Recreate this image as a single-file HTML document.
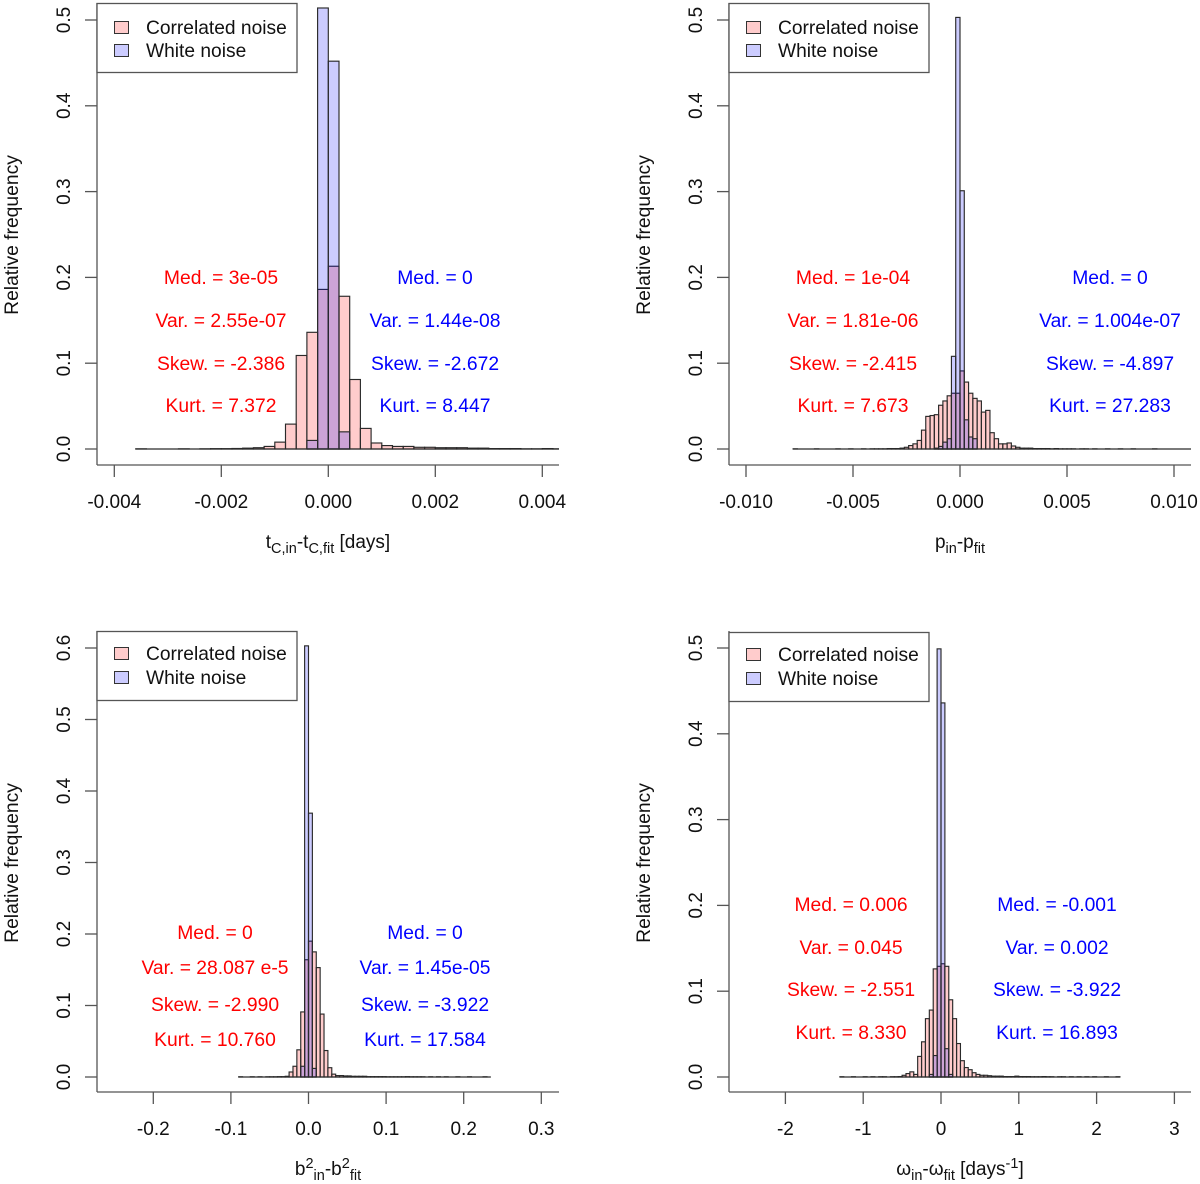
<!DOCTYPE html>
<html lang="en">
<head>
<meta charset="utf-8">
<title>Noise histograms</title>
<style>
html,body{margin:0;padding:0;background:#fff;}
svg{display:block;font-family:"Liberation Sans",Arial,sans-serif;font-size:19px;}
.red{fill:#ff0000;text-anchor:middle;font-size:19.3px;}
.blue{fill:#0000ff;text-anchor:middle;font-size:19.3px;}
.leg{fill:#111;font-size:19.2px;}
.title{fill:#111;text-anchor:middle;}
.sub{font-size:14.5px;}
.lbox{fill:#fff;stroke:#555;stroke-width:1.3;}
.sw1{fill:#ffcccc;stroke:#333;stroke-width:1;}
.sw2{fill:#ccccff;stroke:#333;stroke-width:1;}
</style>
</head>
<body>
<svg id="chart" xmlns="http://www.w3.org/2000/svg" width="1200" height="1184" viewBox="0 0 1200 1184">
  <rect width="1200" height="1184" fill="#fff"/>
  <g id="marks"></g>

  <!-- Panel 1 -->
  <g>
    <rect class="lbox" x="97" y="3.5" width="200" height="69"/>
    <rect class="sw1" x="114.5" y="21.5" width="14" height="12"/>
    <rect class="sw2" x="114.5" y="44.5" width="14" height="12"/>
    <text class="leg" x="146" y="34">Correlated noise</text>
    <text class="leg" x="146" y="57">White noise</text>
  </g>
  <g transform="translate(0,-1)">
    <text class="red" x="221" y="285">Med. = 3e-05</text>
    <text class="red" x="221" y="328">Var. = 2.55e-07</text>
    <text class="red" x="221" y="371">Skew. = -2.386</text>
    <text class="red" x="221" y="413">Kurt. = 7.372</text>
  </g>
  <g transform="translate(0,-1)">
    <text class="blue" x="435" y="285">Med. = 0</text>
    <text class="blue" x="435" y="328">Var. = 1.44e-08</text>
    <text class="blue" x="435" y="371">Skew. = -2.672</text>
    <text class="blue" x="435" y="413">Kurt. = 8.447</text>
  </g>
  <text class="title" x="328" y="548">t<tspan class="sub" dy="5">C,in</tspan><tspan dy="-5">-t</tspan><tspan class="sub" dy="5">C,fit</tspan><tspan dy="-5"> [days]</tspan></text>

  <!-- Panel 2 -->
  <g>
    <rect class="lbox" x="729" y="3.5" width="200" height="69"/>
    <rect class="sw1" x="746.5" y="21.5" width="14" height="12"/>
    <rect class="sw2" x="746.5" y="44.5" width="14" height="12"/>
    <text class="leg" x="778" y="34">Correlated noise</text>
    <text class="leg" x="778" y="57">White noise</text>
  </g>
  <g transform="translate(0,-1)">
    <text class="red" x="853" y="285">Med. = 1e-04</text>
    <text class="red" x="853" y="328">Var. = 1.81e-06</text>
    <text class="red" x="853" y="371">Skew. = -2.415</text>
    <text class="red" x="853" y="413">Kurt. = 7.673</text>
  </g>
  <g transform="translate(0,-1)">
    <text class="blue" x="1110" y="285">Med. = 0</text>
    <text class="blue" x="1110" y="328">Var. = 1.004e-07</text>
    <text class="blue" x="1110" y="371">Skew. = -4.897</text>
    <text class="blue" x="1110" y="413">Kurt. = 27.283</text>
  </g>
  <text class="title" x="960" y="548">p<tspan class="sub" dy="5">in</tspan><tspan dy="-5">-p</tspan><tspan class="sub" dy="5">fit</tspan></text>

  <!-- Panel 3 -->
  <g>
    <rect class="lbox" x="97" y="631.5" width="200" height="69"/>
    <rect class="sw1" x="114.5" y="647.5" width="14" height="12"/>
    <rect class="sw2" x="114.5" y="671.5" width="14" height="12"/>
    <text class="leg" x="146" y="660">Correlated noise</text>
    <text class="leg" x="146" y="684">White noise</text>
  </g>
  <g transform="translate(0,-1)">
    <text class="red" x="215" y="940">Med. = 0</text>
    <text class="red" x="215" y="975">Var. = 28.087 e-5</text>
    <text class="red" x="215" y="1012">Skew. = -2.990</text>
    <text class="red" x="215" y="1047">Kurt. = 10.760</text>
  </g>
  <g transform="translate(0,-1)">
    <text class="blue" x="425" y="940">Med. = 0</text>
    <text class="blue" x="425" y="975">Var. = 1.45e-05</text>
    <text class="blue" x="425" y="1012">Skew. = -3.922</text>
    <text class="blue" x="425" y="1047">Kurt. = 17.584</text>
  </g>
  <text class="title" x="328" y="1175">b<tspan class="sub" dy="-7">2</tspan><tspan class="sub" dy="12">in</tspan><tspan dy="-5">-b</tspan><tspan class="sub" dy="-7">2</tspan><tspan class="sub" dy="12">fit</tspan></text>

  <!-- Panel 4 -->
  <g>
    <rect class="lbox" x="729" y="632.5" width="200" height="69"/>
    <rect class="sw1" x="746.5" y="648.5" width="14" height="12"/>
    <rect class="sw2" x="746.5" y="672.5" width="14" height="12"/>
    <text class="leg" x="778" y="661">Correlated noise</text>
    <text class="leg" x="778" y="685">White noise</text>
  </g>
  <g transform="translate(0,-1)">
    <text class="red" x="851" y="912">Med. = 0.006</text>
    <text class="red" x="851" y="955">Var. = 0.045</text>
    <text class="red" x="851" y="997">Skew. = -2.551</text>
    <text class="red" x="851" y="1040">Kurt. = 8.330</text>
  </g>
  <g transform="translate(0,-1)">
    <text class="blue" x="1057" y="912">Med. = -0.001</text>
    <text class="blue" x="1057" y="955">Var. = 0.002</text>
    <text class="blue" x="1057" y="997">Skew. = -3.922</text>
    <text class="blue" x="1057" y="1040">Kurt. = 16.893</text>
  </g>
  <text class="title" x="960" y="1175">ω<tspan class="sub" dy="5">in</tspan><tspan dy="-5">-ω</tspan><tspan class="sub" dy="5">fit</tspan><tspan dy="-5"> [days</tspan><tspan class="sub" dy="-7">-1</tspan><tspan dy="7">]</tspan></text>
</svg>

<script>
// ---- tc panel data ----
var tcBinWidth = 0.0002;
var tcCorrelatedStart = -0.0036;
var tcCorrelated = [0.0002,0,0,0,0.0002,0,0.0002,0.0004,0.0004,0.0006,0.001,0.0015,0.003,0.008,0.029,0.109,0.136,0.186,0.213,0.178,0.081,0.024,0.007,0.004,0.003,0.003,0.002,0.002,0.0015,0.0015,0.0015,0.001,0.001,0.0005,0.0005,0.0005,0.0002,0.0002,0.0005,0.0002,0.0002];
var tcWhiteStart = -0.0004;
var tcWhite = [0.010,0.514,0.452,0.020];
var tcXTicks = [-0.004,-0.002,0,0.002,0.004];
var tcXLabels = ["-0.004","-0.002","0.000","0.002","0.004"];
var tcYTicks = [0,0.1,0.2,0.3,0.4,0.5];
var tcYLabels = ["0.0","0.1","0.2","0.3","0.4","0.5"];

// ---- p panel data ----
var pBinWidth = 0.0002;
var pCorrelatedStart = -0.0078;
var pCorrelated = [0.0002,0,0,0,0,0.0002,0,0,0,0,0.0002,0,0,0.0002,0,0,0.0002,0,0.0002,0.0002,0.0002,0.0002,0.0005,0.0005,0.0005,0.001,0.002,0.004,0.006,0.010,0.022,0.038,0.039,0.040,0.051,0.056,0.062,0.065,0.065,0.091,0.078,0.065,0.059,0.056,0.043,0.045,0.019,0.012,0.006,0.006,0.007,0.0035,0.002,0.001,0.001,0.001,0.0005,0.0005,0.0005,0.0005,0.0002,0.0005,0.0002,0.0002,0.0002,0.0002,0,0.0002,0.0002,0,0.0002,0,0,0.0002,0,0,0.0002,0,0,0.0002,0,0,0,0,0.0002,0,0,0,0,0,0,0,0];
var pWhiteStart = -0.0012;
var pWhite = [0.001,0.003,0.008,0.012,0.108,0.503,0.301,0.034,0.014,0.012];
var pXTicks = [-0.01,-0.005,0,0.005,0.01];
var pXLabels = ["-0.010","-0.005","0.000","0.005","0.010"];
var pYTicks = [0,0.1,0.2,0.3,0.4,0.5];
var pYLabels = ["0.0","0.1","0.2","0.3","0.4","0.5"];

// ---- b2 panel data ----
var bBinWidth = 0.005;
var bCorrelatedStart = -0.09;
var bCorrelated = [0.0003,0,0,0.0003,0,0.0003,0,0.0003,0.0003,0.0003,0.0005,0.0005,0.001,0.007,0.015,0.038,0.091,0.164,0.190,0.175,0.153,0.088,0.037,0.013,0.004,0.002,0.002,0.0015,0.0015,0.001,0.001,0.001,0.001,0.0005,0.0005,0.0005,0.0005,0.0005,0.0003,0.0003,0.0003,0.0003,0.0003,0.0005,0.0003,0.0003,0.0003,0.0003,0,0.0003,0,0.0003,0,0.0003,0,0,0.0003,0,0,0.0003,0,0,0,0.0003,0];
var bWhiteStart = -0.01;
var bWhite = [0.015,0.603,0.369,0.012];
var bXTicks = [-0.2,-0.1,0,0.1,0.2,0.3];
var bXLabels = ["-0.2","-0.1","0.0","0.1","0.2","0.3"];
var bYTicks = [0,0.1,0.2,0.3,0.4,0.5,0.6];
var bYLabels = ["0.0","0.1","0.2","0.3","0.4","0.5","0.6"];

// ---- omega panel data ----
var wBinWidth = 0.05;
var wCorrelatedStart = -1.3;
var wCorrelated = [0.0003,0,0,0.0003,0,0,0.0003,0,0.0003,0,0.0003,0.0003,0,0.0003,0.0003,0.0005,0.002,0.004,0.006,0.003,0.024,0.041,0.068,0.078,0.126,0.129,0.132,0.129,0.090,0.068,0.039,0.019,0.011,0.0085,0.005,0.003,0.002,0.002,0.0015,0.001,0.001,0.001,0.0005,0.0005,0.0005,0.001,0.0005,0.0005,0.0005,0.0003,0.0003,0.0003,0.0005,0.0003,0.0003,0,0.0003,0.0003,0,0.0003,0,0.0003,0,0.0003,0,0.0003,0,0,0.0003,0,0,0.0003];
var wWhiteStart = -0.15;
var wWhite = [0.003,0.025,0.499,0.436,0.033,0.003];
var wXTicks = [-2,-1,0,1,2,3];
var wXLabels = ["-2","-1","0","1","2","3"];
var wYTicks = [0,0.1,0.2,0.3,0.4,0.5];
var wYLabels = ["0.0","0.1","0.2","0.3","0.4","0.5"];

var SVGNS = "http://www.w3.org/2000/svg";
var marksRoot = document.getElementById("marks");

function makeAxes(left, right, top, bottom, x0, xPerUnit, y0, yPerUnit) {
  return {
    left: left, right: right, top: top, bottom: bottom,
    x: function (v) { return x0 + v * xPerUnit; },
    y: function (v) { return y0 - v * yPerUnit; }
  };
}

function lineEl(parent, x1, y1, x2, y2, name) {
  var el = document.createElementNS(SVGNS, "line");
  el.setAttribute("x1", x1);
  el.setAttribute("y1", y1);
  el.setAttribute("x2", x2);
  el.setAttribute("y2", y2);
  el.setAttribute("stroke", "#555");
  el.setAttribute("stroke-width", "1.3");
  
  
  parent.appendChild(el);
}

function textEl(parent, x, y, str, rotate, name, size) {
  var el = document.createElementNS(SVGNS, "text");
  el.setAttribute("x", x);
  el.setAttribute("y", y);
  el.setAttribute("fill", "#111");
  el.setAttribute("text-anchor", "middle");
  if (size) el.setAttribute("font-size", size);
  if (rotate) el.setAttribute("transform", "rotate(-90 " + x + " " + y + ")");
  el.textContent = str;
  
  
  parent.appendChild(el);
}

function drawBars(parent, axes, start, width, values, fill, name, clipId) {
  var group = document.createElementNS(SVGNS, "g");
  group.setAttribute("clip-path", "url(#" + clipId + ")");
  
  
  values.forEach(function (v, i) {
    if (v <= 0) return;
    var xa = axes.x(start + i * width);
    var xb = axes.x(start + (i + 1) * width);
    var yt = axes.y(v);
    var yb = axes.y(0);
    var r = document.createElementNS(SVGNS, "rect");
    r.setAttribute("x", xa);
    r.setAttribute("y", yt);
    r.setAttribute("width", xb - xa);
    r.setAttribute("height", yb - yt);
    r.setAttribute("fill", fill);
    r.setAttribute("stroke", "#2a2a2a");
    r.setAttribute("stroke-width", "1.15");
    
    
    group.appendChild(r);
  });
  var base = document.createElementNS(SVGNS, "line");
  base.setAttribute("x1", axes.x(start));
  base.setAttribute("y1", axes.y(0));
  base.setAttribute("x2", axes.x(start + values.length * width));
  base.setAttribute("y2", axes.y(0));
  base.setAttribute("stroke", "#2a2a2a");
  base.setAttribute("stroke-width", "1.15");
  
  
  group.appendChild(base);
  parent.appendChild(group);
}

function drawPanel(id, axes, binWidth, corrStart, corr, whiteStart, white, xTicks, xLabels, yTicks, yLabels) {
  var g = document.createElementNS(SVGNS, "g");
  
  
  marksRoot.appendChild(g);

  var clip = document.createElementNS(SVGNS, "clipPath");
  clip.setAttribute("id", "clip-" + id);
  var cr = document.createElementNS(SVGNS, "rect");
  cr.setAttribute("x", axes.left);
  cr.setAttribute("y", axes.top);
  cr.setAttribute("width", axes.right - axes.left);
  cr.setAttribute("height", axes.bottom - axes.top);
  clip.appendChild(cr);
  g.appendChild(clip);

  drawBars(g, axes, corrStart, binWidth, corr, "rgba(255,0,0,0.2)", "correlated-noise", "clip-" + id);
  drawBars(g, axes, whiteStart, binWidth, white, "rgba(0,0,255,0.2)", "white-noise", "clip-" + id);

  lineEl(g, axes.left, axes.top, axes.left, axes.bottom, "y-axis-line");
  lineEl(g, axes.left, axes.bottom, axes.right, axes.bottom, "x-axis-line");

  xTicks.forEach(function (t, i) {
    var px = axes.x(t);
    lineEl(g, px, axes.bottom, px, axes.bottom + 12, "x-tick");
    textEl(g, px, axes.bottom + 43, xLabels[i], false, "x-tick-label");
  });
  yTicks.forEach(function (t, i) {
    var py = axes.y(t);
    lineEl(g, axes.left - 12, py, axes.left, py, "y-tick");
    textEl(g, axes.left - 27, py, yLabels[i], true, "y-tick-label");
  });
  var midY = axes.top + 232;
  textEl(g, axes.left - 79, midY, "Relative frequency", true, "y-axis-title", "19.3");
}

drawPanel("tc", makeAxes(97, 559, 3, 465, 328.3, 53500, 449, 858),
  tcBinWidth, tcCorrelatedStart, tcCorrelated, tcWhiteStart, tcWhite, tcXTicks, tcXLabels, tcYTicks, tcYLabels);
drawPanel("p", makeAxes(729, 1191, 3, 465, 960, 21400, 449, 858),
  pBinWidth, pCorrelatedStart, pCorrelated, pWhiteStart, pWhite, pXTicks, pXLabels, pYTicks, pYLabels);
drawPanel("b2", makeAxes(97, 559, 631, 1092, 308.5, 776, 1077, 715),
  bBinWidth, bCorrelatedStart, bCorrelated, bWhiteStart, bWhite, bXTicks, bXLabels, bYTicks, bYLabels);
drawPanel("omega", makeAxes(729, 1191, 631, 1092, 941, 77.8, 1077, 858),
  wBinWidth, wCorrelatedStart, wCorrelated, wWhiteStart, wWhite, wXTicks, wXLabels, wYTicks, wYLabels);
</script>
</body>
</html>
